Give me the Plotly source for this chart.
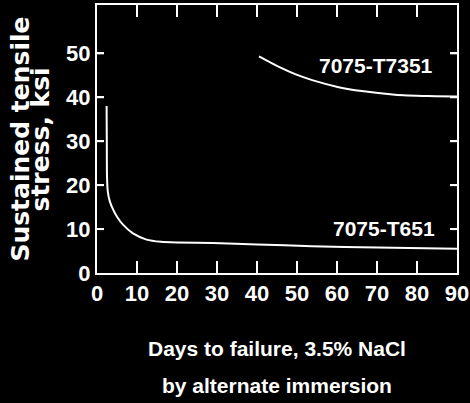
import plotly.graph_objects as go

# Sustained tensile stress vs. days to failure (3.5% NaCl, alternate immersion)
t651_days = [2.4, 2.45, 2.5, 2.7, 3.2, 4.1, 5.0, 6.5, 9.0, 12.4, 16.0, 20.0, 29.0, 40.0, 53.7, 70.0, 90.0]
t651_stress = [38, 30, 22, 18.5, 16.3, 14.3, 12.8, 11.0, 9.0, 7.6, 7.1, 6.95, 6.8, 6.5, 6.1, 5.8, 5.5]

t7351_days = [40.5, 45.5, 49.7, 53.8, 60.4, 66.2, 74.5, 82.8, 90.0]
t7351_stress = [49.3, 46.9, 45.2, 43.9, 42.3, 41.4, 40.6, 40.3, 40.2]

x_ticks = [0, 10, 20, 30, 40, 50, 60, 70, 80, 90]
y_ticks = [0, 10, 20, 30, 40, 50]

X_RANGE = [0, 90]
Y_RANGE = [0, 61]
WIDTH, HEIGHT = 470, 403
MARGIN = dict(l=97, r=13, t=5, b=130)
X_TICKLEN, Y_TICKLEN = 12, 7

LABEL_FONT = "Liberation Sans"
TITLE_FONT = "DejaVu Sans"
WHITE = "white"

fig = go.Figure()
line = dict(color=WHITE, width=2, shape="spline", smoothing=0.6)
fig.add_trace(go.Scatter(x=t651_days, y=t651_stress, mode="lines", line=line))
fig.add_trace(go.Scatter(x=t7351_days, y=t7351_stress, mode="lines", line=line))

# Inward tick marks on all four sides of the frame, drawn as one line trace
plot_w = WIDTH - MARGIN["l"] - MARGIN["r"]
plot_h = HEIGHT - MARGIN["t"] - MARGIN["b"]
dy = X_TICKLEN * (Y_RANGE[1] - Y_RANGE[0]) / plot_h
dx = Y_TICKLEN * (X_RANGE[1] - X_RANGE[0]) / plot_w
tx, ty = [], []
for v in x_ticks[1:-1]:
    tx += [v, v, None, v, v, None]
    ty += [Y_RANGE[0], Y_RANGE[0] + dy, None, Y_RANGE[1], Y_RANGE[1] - dy, None]
for v in y_ticks[1:]:
    tx += [X_RANGE[0], X_RANGE[0] + dx, None, X_RANGE[1], X_RANGE[1] - dx, None]
    ty += [v, v, None, v, v, None]
fig.add_trace(go.Scatter(x=tx, y=ty, mode="lines", line=dict(color=WHITE, width=2)))

axis_common = dict(
    showgrid=True, gridcolor="rgba(0,0,0,0)", zeroline=False,
    showline=True, linecolor=WHITE, linewidth=2, mirror="allticks",
    ticks="inside", tickcolor=WHITE, tickwidth=2,
    tickfont=dict(family=LABEL_FONT, size=22, color=WHITE, weight="bold"),
)
fig.update_xaxes(range=X_RANGE, tickvals=x_ticks, ticklen=X_TICKLEN, **axis_common)
fig.update_yaxes(range=Y_RANGE, tickvals=y_ticks, ticklen=Y_TICKLEN, **axis_common)

label_font = dict(family=LABEL_FONT, size=21, color=WHITE, weight="bold")
title_font = dict(family=TITLE_FONT, size=25, color=WHITE, weight="bold")
annotations = [
    dict(text="7075-T7351", x=69.7, y=47.3, xref="x", yref="y", font=label_font),
    dict(text="7075-T651", x=71.7, y=10.2, xref="x", yref="y", font=label_font),
    dict(text="Days to failure, 3.5% NaCl", x=0.5, y=-0.28, xref="paper", yref="paper", font=label_font),
    dict(text="by alternate immersion", x=0.5, y=-0.4216, xref="paper", yref="paper", font=label_font),
    dict(text="Sustained tensile", x=-0.215, y=0.5, xref="paper", yref="paper", textangle=-90, font=title_font),
    dict(text="stress, ksi", x=-0.157, y=0.5, xref="paper", yref="paper", textangle=-90, font=title_font),
]
for a in annotations:
    a.update(showarrow=False, xanchor="center", yanchor="middle")

fig.update_layout(
    template="none",
    width=WIDTH, height=HEIGHT,
    margin=MARGIN,
    paper_bgcolor="black", plot_bgcolor="black",
    showlegend=False,
    annotations=annotations,
)

fig.write_html("out.html")
